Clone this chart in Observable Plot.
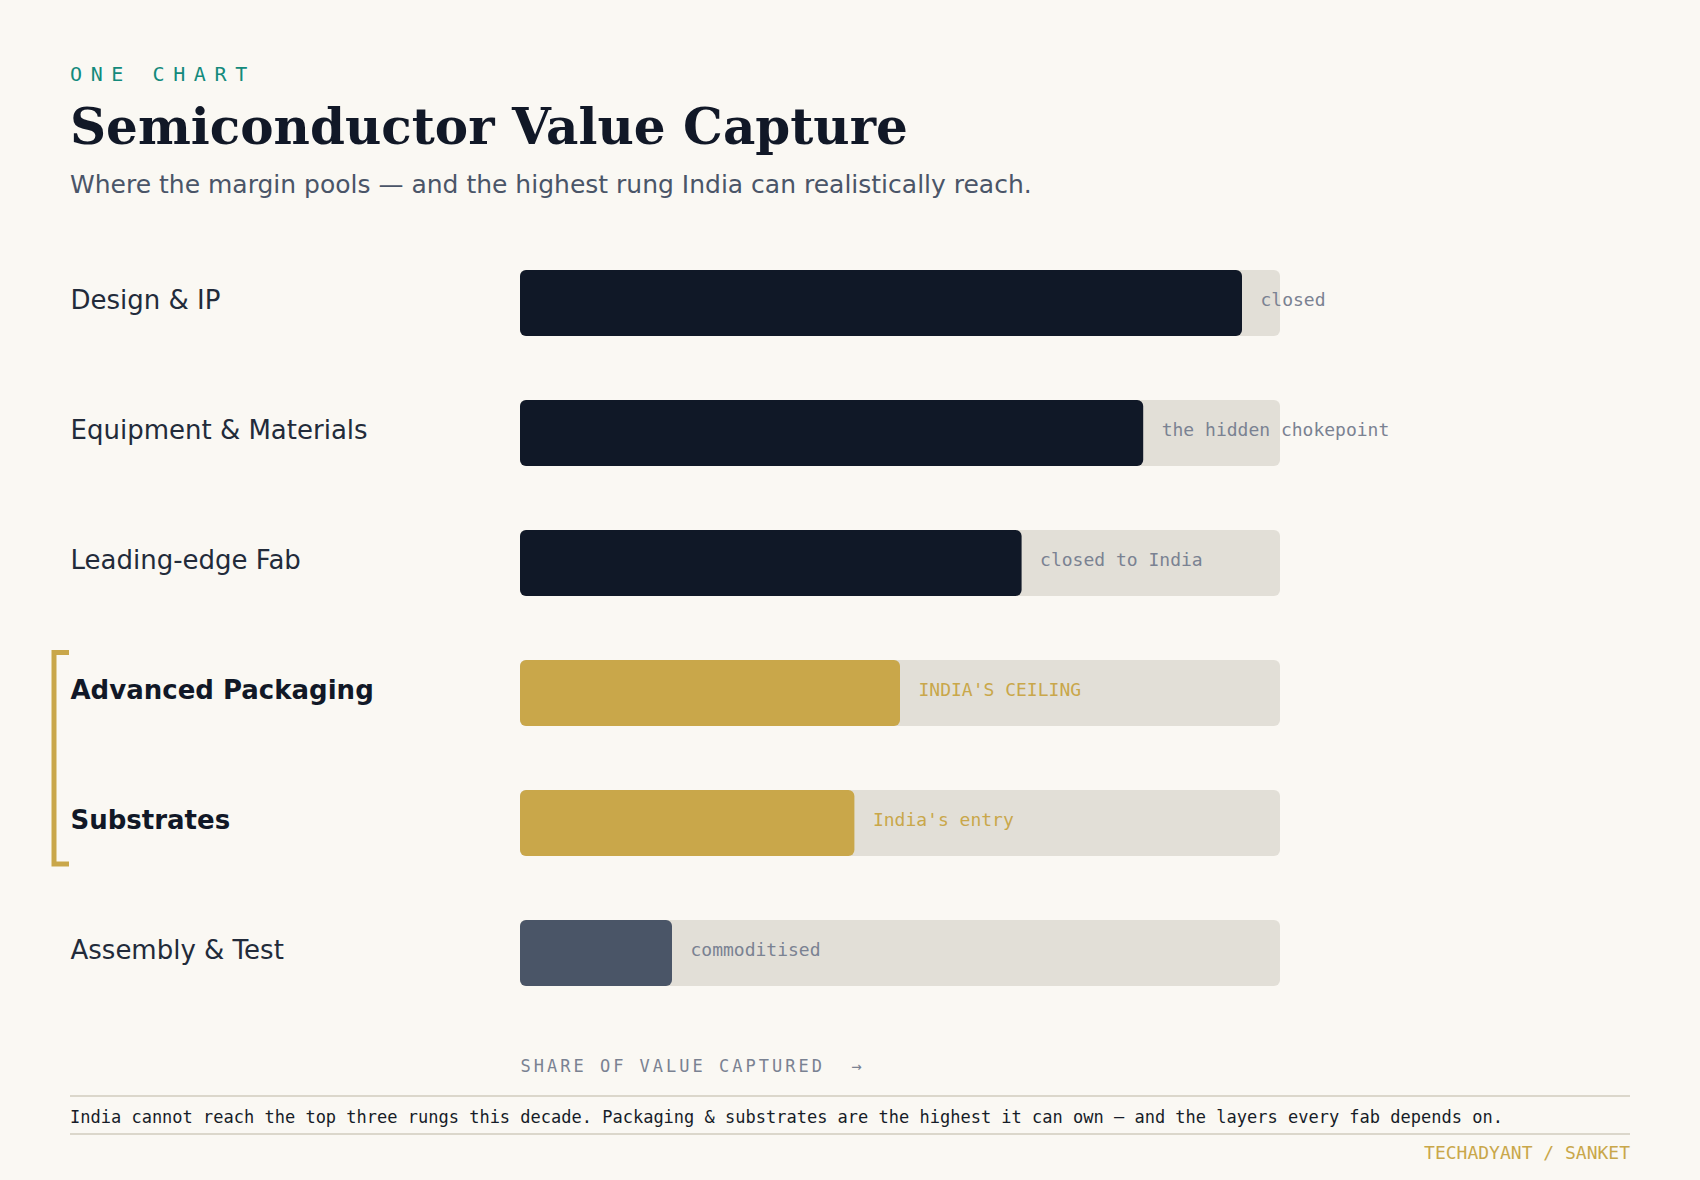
<!DOCTYPE html>
<html>
<head>
<meta charset="utf-8">
<script src="https://cdn.jsdelivr.net/npm/d3@7"></script>
<script src="https://cdn.jsdelivr.net/npm/@observablehq/plot@0.6"></script>
<style>
  html, body { margin: 0; padding: 0; }
  body { width: 1700px; height: 1180px; background: #faf8f3; position: relative; overflow: hidden; }
  .abs { position: absolute; white-space: pre; }
  .kicker { left: 70px; top: 64px; font: 20px/20px "DejaVu Sans Mono", monospace; letter-spacing: 8.6px; color: #138a7c; }
  .title { left: 70px; top: 101.5px; font: bold 50px/50px "DejaVu Serif", serif; color: #111827; }
  .subtitle { left: 70px; top: 172px; font: 25px/25px "DejaVu Sans", sans-serif; color: #4a5568; }
  #chart { position: absolute; left: 0; top: 230px; }
  #chart svg { background: transparent; overflow: visible; }
  #chart svg text { white-space: pre; }
  .rule { left: 70px; width: 1560px; height: 2px; background: #dbd7cb; }
  .caption { left: 70px; top: 1109px; font: 17px/17px "DejaVu Sans Mono", monospace; color: #161c28; }
  .credit { right: 70px; top: 1144px; font: 18px/18px "DejaVu Sans Mono", monospace; color: #c9a74a; }
</style>
</head>
<body>
<div class="abs kicker">ONE CHART</div>
<div class="abs title">Semiconductor Value Capture</div>
<div class="abs subtitle">Where the margin pools — and the highest rung India can realistically reach.</div>
<div id="chart"></div>
<div class="abs rule" style="top:1095px"></div>
<div class="abs caption">India cannot reach the top three rungs this decade. Packaging &amp; substrates are the highest it can own — and the layers every fab depends on.</div>
<div class="abs rule" style="top:1133px"></div>
<div class="abs credit">TECHADYANT / SANKET</div>
<script>
// Value chain rungs, top to bottom
const stages = ["Design & IP", "Equipment & Materials", "Leading-edge Fab", "Advanced Packaging", "Substrates", "Assembly & Test"];
// Share of value captured (0–100 scale)
const valueShare = [95, 82, 66, 50, 44, 20];
// Annotation next to each bar
const notes = ["closed", "the hidden chokepoint", "closed to India", "INDIA'S CEILING", "India's entry", "commoditised"];
// How reachable each rung is for India
const access = ["closed", "closed", "closed", "reachable", "reachable", "commodity"];
// Full scale of the track behind each bar
const fullScale = 100;
const axisTitle = "SHARE OF VALUE CAPTURED  →";

const rows = stages.map((stage, i) => ({stage, value: valueShare[i], note: notes[i], access: access[i]}));
const reachable = rows.filter(d => d.access === "reachable");

const GOLD = "#c9a74a";
const MUTED = "#7a8292";

// Gold bracket spanning the reachable rungs, left of the labels
function reachBracket(index, scales, values, dimensions) {
  const y = scales.y;
  const first = reachable[0].stage, last = reachable[reachable.length - 1].stage;
  const top = y(first) - 7.5;
  const bottom = y(last) + y.bandwidth() + 8;
  const xl = dimensions.marginLeft - 466;
  const xr = dimensions.marginLeft - 451;
  return d3.create("svg:path")
    .attr("d", `M${xr},${top}H${xl}V${bottom}H${xr}`)
    .attr("fill", "none")
    .attr("stroke", GOLD)
    .attr("stroke-width", 5)
    .node();
}

const chart = Plot.plot({
  width: 1700,
  height: 860,
  marginTop: 40,
  marginBottom: 104,
  marginLeft: 520,
  marginRight: 420,
  style: {background: "transparent"},
  x: {domain: [0, fullScale], axis: null},
  y: {domain: stages, axis: null, paddingInner: 0.4923, paddingOuter: 0, round: false},
  color: {domain: ["closed", "reachable", "commodity"], range: ["#101827", GOLD, "#4a5567"]},
  marks: [
    // background track
    Plot.barX(rows, {y: "stage", x1: d => 0, x2: d => fullScale, fill: "#e2dfd7", rx: 6}),
    // captured share
    Plot.barX(rows, {y: "stage", x1: d => 0, x2: "value", fill: "access", rx: 6}),
    // notes
    Plot.text(rows.filter(d => d.access !== "reachable"), {
      y: "stage", x: "value", text: "note", dx: 18, dy: -3.5, textAnchor: "start",
      fill: MUTED, fontSize: 18, fontFamily: "DejaVu Sans Mono"
    }),
    Plot.text(reachable, {
      y: "stage", x: "value", text: "note", dx: 18, dy: -3.5, textAnchor: "start",
      fill: GOLD, fontSize: 18, fontFamily: "DejaVu Sans Mono"
    }),
    // stage labels
    Plot.text(rows.filter(d => d.access !== "reachable"), {
      y: "stage", text: "stage", frameAnchor: "left", dx: -450, dy: -2.5, textAnchor: "start",
      fill: "#222b3a", fontSize: 26, fontFamily: "DejaVu Sans"
    }),
    Plot.text(reachable, {
      y: "stage", text: "stage", frameAnchor: "left", dx: -450, dy: -2.5, textAnchor: "start",
      fill: "#111827", fontSize: 26, fontWeight: "bold", fontFamily: "DejaVu Sans"
    }),
    reachBracket,
    // axis title
    Plot.text([axisTitle], {
      text: d => d, frameAnchor: "bottom-left", dy: 85, textAnchor: "start",
      fill: MUTED, fontSize: 17, fontFamily: "DejaVu Sans Mono"
    })
  ]
});

// spaced-out lettering for the axis title
d3.select(chart).selectAll("text")
  .filter(function() { return this.textContent === axisTitle; })
  .style("letter-spacing", "3px");

document.getElementById("chart").appendChild(chart);
</script>
</body>
</html>
